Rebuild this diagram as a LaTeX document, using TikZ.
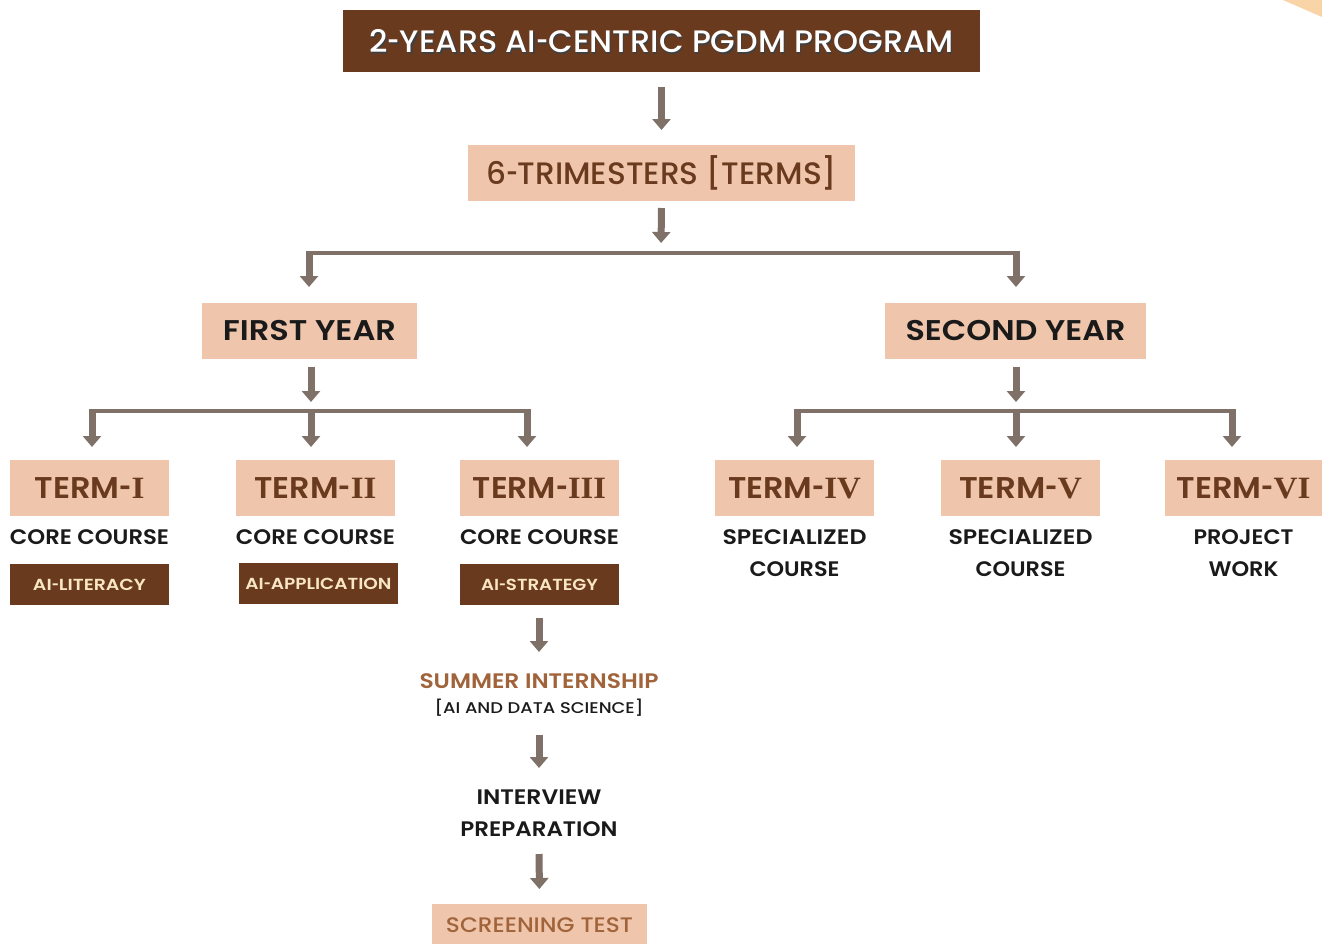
\documentclass[tikz,border=0pt]{standalone}
\usepackage{fontspec}
\setmainfont{Poppins}[UprightFont=* Medium, BoldFont=* SemiBold]
\newfontfamily\romfont{Liberation Serif}
\usetikzlibrary{arrows.meta}
\definecolor{dbrown}{HTML}{6A3A1E}
\definecolor{peach}{HTML}{EFC6AC}
\definecolor{arrc}{HTML}{7F7068}
\definecolor{cream}{HTML}{F8E6C4}
\definecolor{ink}{HTML}{1A1A1A}
\definecolor{rust}{HTML}{A0633A}
\definecolor{cornerc}{HTML}{F9D4A6}
\newcommand\fitw[2]{\resizebox{#1pt}{\height}{#2}}
\newcommand\rn[1]{{\romfont\bfseries\fontsize{31}{32}\selectfont #1}}
\newcommand\hy{\scalebox{0.65}[1]{-}}
\begin{document}
\begin{tikzpicture}[x=1pt,y=-1pt,
  pbox/.style={fill=peach, inner sep=0pt, outer sep=0pt, minimum height=56pt},
  dbox/.style={fill=dbrown, inner sep=0pt, outer sep=0pt},
  termbox/.style={pbox, minimum width=159pt, text=dbrown, font=\bfseries\fontsize{30}{32}\selectfont},
  aibox/.style={dbox, minimum width=159pt, minimum height=41pt, text=cream, font=\bfseries\fontsize{16}{18}\selectfont},
  lbl/.style={inner sep=0pt, outer sep=0pt, text=ink, align=center, font=\bfseries\fontsize{21}{32}\selectfont},
  flow/.style={draw=arrc, line width=7pt, -{Triangle[width=18pt,length=11pt]}},
  barline/.style={draw=arrc, line width=4.5pt},
  ttl/.style={inner sep=0pt, font=\fontsize{31}{34}\selectfont},
]
\useasboundingbox (0,0) rectangle (1322,943);
% corner decoration
\fill[cornerc] (1283,0) -- (1322,0) -- (1322,17) -- cycle;

% title
\node[dbox, minimum width=637pt, minimum height=62pt] (title) at (661.5,41) {};
\node[ttl, text=black!75] (titleshadow) at (662.7,42.6) {\fitw{584}{2\hy YEARS AI\hy CENTRIC PGDM PROGRAM}};
\node[ttl, text=white] (titletext) at (661.5,41) {\fitw{584}{2\hy YEARS AI\hy CENTRIC PGDM PROGRAM}};

\node[pbox, minimum width=387pt, text=dbrown, font=\fontsize{31}{34}\selectfont] (tri) at (661.5,173) {\fitw{351}{6\hy TRIMESTERS [TERMS]}};

\node[pbox, minimum width=215pt, text=ink, font=\bfseries\fontsize{28.5}{32}\selectfont] (fy) at (309.5,331) {\fitw{173}{FIRST YEAR}};
\node[pbox, minimum width=261pt, text=ink, font=\bfseries\fontsize{28.5}{32}\selectfont] (sy) at (1015.5,331) {\fitw{220}{SECOND YEAR}};

% terms
\node[termbox] (t1) at (89.5,488) {\fitw{110}{TERM\hy\rn{I}}};
\node[termbox] (t2) at (315.5,488) {\fitw{122}{TERM\hy\rn{II}}};
\node[termbox] (t3) at (539.5,488) {\fitw{133}{TERM\hy\rn{III}}};
\node[termbox] (t4) at (794.5,488) {\fitw{133}{TERM\hy\rn{IV}}};
\node[termbox] (t5) at (1020.5,488) {\fitw{123}{TERM\hy\rn{V}}};
\node[termbox, minimum width=157pt] (t6) at (1243.5,488) {\fitw{134}{TERM\hy\rn{VI}}};

\node[lbl] (c1) at (89.5,537) {\fitw{159}{CORE COURSE}};
\node[lbl] (c2) at (315.5,537) {\fitw{159}{CORE COURSE}};
\node[lbl] (c3) at (539.5,537) {\fitw{159}{CORE COURSE}};
\node[lbl] (c4) at (794.5,553) {\fitw{144}{SPECIALIZED}\\\fitw{90}{COURSE}};
\node[lbl] (c5) at (1020.5,553) {\fitw{144}{SPECIALIZED}\\\fitw{90}{COURSE}};
\node[lbl] (c6) at (1243.5,553) {\fitw{100}{PROJECT}\\\fitw{70}{WORK}};

\node[aibox] (a1) at (89.5,584.5) {\fitw{113}{AI\hy LITERACY}};
\node[aibox] (a2) at (318.5,583.5) {\fitw{146}{AI\hy APPLICATION}};
\node[aibox] (a3) at (539.5,584.5) {\fitw{117}{AI\hy STRATEGY}};

\node[lbl, text=rust, minimum height=30pt] (summer) at (539,681) {\fitw{239}{SUMMER INTERNSHIP}};
\node[lbl, font=\fontsize{15.5}{17}\selectfont, minimum height=14pt] (ads) at (539,708) {\fitw{209}{[AI AND DATA SCIENCE]}};
\node[lbl, minimum height=60pt] (intv) at (539,813) {\fitw{125}{INTERVIEW}\\\fitw{157}{PREPARATION}};
\node[pbox, minimum width=215pt, minimum height=42pt, text=rust, font=\fontsize{21}{24}\selectfont] (scr) at (539.5,925) {\fitw{187}{SCREENING TEST}};

% bars
\coordinate (ybL) at (309,253);
\coordinate (ybC) at (661,253);
\coordinate (ybR) at (1016,253);
\coordinate (fbL) at (92,411);
\coordinate (fbC) at (311,411);
\coordinate (fbR) at (527,411);
\coordinate (sbL) at (797,411);
\coordinate (sbC) at (1016,411);
\coordinate (sbR) at (1232,411);

\draw[barline] (ybL) -- (ybR);
\draw[barline] (fbL) -- (fbR);
\draw[barline] (sbL) -- (sbR);

% connectors
\draw[flow, shorten <=15pt, shorten >=15pt] (title.south) -- (tri.north);
\draw[flow, shorten <=7pt, shorten >=10pt] (tri.south) -- (ybC);
\draw[flow, shorten <=-2.2pt, shorten >=16pt] (ybL) -- (ybL |- fy.north);
\draw[flow, shorten <=-2.2pt, shorten >=16pt] (ybR) -- (ybR |- sy.north);

\draw[flow, shorten <=8pt, shorten >=9pt] (fy.south -| fbC) -- (fbC);
\draw[flow, shorten <=8pt, shorten >=9pt] (sy.south -| sbC) -- (sbC);

\draw[flow, shorten <=-2.2pt, shorten >=13pt] (fbL) -- (fbL |- t1.north);
\draw[flow, shorten <=-2.2pt, shorten >=13pt] (fbC) -- (fbC |- t2.north);
\draw[flow, shorten <=-2.2pt, shorten >=13pt] (fbR) -- (fbR |- t3.north);
\draw[flow, shorten <=-2.2pt, shorten >=13pt] (sbL) -- (sbL |- t4.north);
\draw[flow, shorten <=-2.2pt, shorten >=13pt] (sbC) -- (sbC |- t5.north);
\draw[flow, shorten <=-2.2pt, shorten >=13pt] (sbR) -- (sbR |- t6.north);

\draw[flow, shorten <=13pt, shorten >=14pt] (a3.south -| summer.north) -- (summer.north);
\draw[flow, shorten <=18pt, shorten >=15pt] (ads.south) -- (intv.north);
\draw[flow, shorten <=11pt, shorten >=15pt] (intv.south) -- (scr.north);
\end{tikzpicture}
\end{document}
